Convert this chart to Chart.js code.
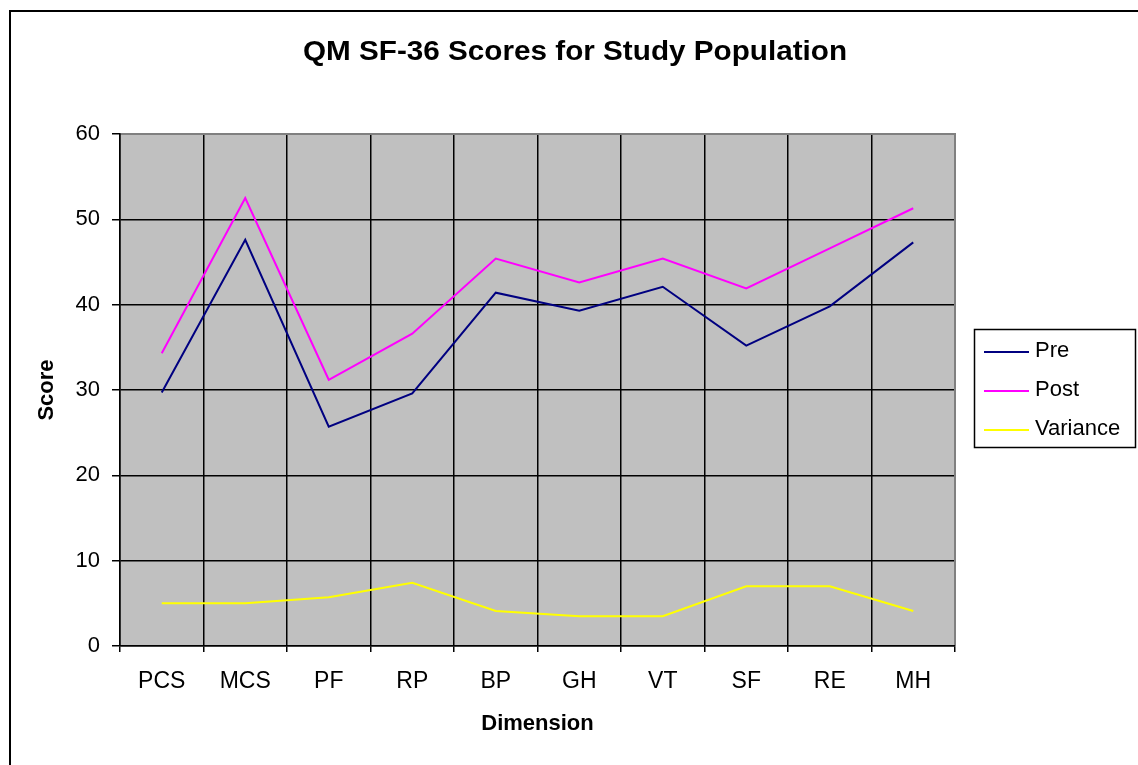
<!DOCTYPE html>
<html>
<head>
<meta charset="utf-8">
<script src="https://cdn.jsdelivr.net/npm/chart.js@4.4.1/dist/chart.umd.min.js"></script>
<style>
html, body { margin: 0; padding: 0; background: #fff; }
#wrap { position: relative; width: 1138px; height: 765px; }
</style>
</head>
<body>
<div id="wrap"><canvas id="chart" width="1138" height="765"></canvas></div>
<script>
// data
const categories = ['PCS', 'MCS', 'PF', 'RP', 'BP', 'GH', 'VT', 'SF', 'RE', 'MH'];
const preScores = [29.7, 47.6, 25.7, 29.6, 41.4, 39.3, 42.1, 35.2, 39.8, 47.3];
const postScores = [34.3, 52.5, 31.2, 36.6, 45.4, 42.6, 45.4, 41.9, 46.6, 51.3];
const varianceScores = [5.0, 5.0, 5.7, 7.4, 4.1, 3.5, 3.5, 7.0, 7.0, 4.1];
const yTicks = [0, 10, 20, 30, 40, 50, 60];

const chartTitle = 'QM SF-36 Scores for Study Population';
const fam = '"Liberation Sans", Arial, sans-serif';

// gray plot area + outer frame
const plotBg = {
    id: 'plotBg',
    beforeDraw(chart) {
        const ctx = chart.ctx;
        const a = chart.chartArea;
        ctx.save();
        ctx.fillStyle = '#fff';
        ctx.fillRect(0, 0, chart.width, chart.height);
        ctx.fillStyle = '#C0C0C0';
        ctx.fillRect(a.left, a.top, a.right - a.left, a.bottom - a.top);
        // outer chart frame (runs off the page right and bottom)
        ctx.strokeStyle = '#000';
        ctx.lineWidth = 2;
        ctx.beginPath();
        ctx.moveTo(10, chart.height + 5);
        ctx.lineTo(10, 11);
        ctx.lineTo(chart.width + 5, 11);
        ctx.stroke();
        ctx.restore();
    },
    beforeDatasetsDraw(chart) {
        const ctx = chart.ctx;
        const a = chart.chartArea;
        ctx.save();
        ctx.strokeStyle = '#808080';
        ctx.lineWidth = 2;
        ctx.beginPath();
        ctx.moveTo(a.left + 1, a.top);
        ctx.lineTo(a.right, a.top);
        ctx.lineTo(a.right, a.bottom - 1);
        ctx.stroke();
        ctx.restore();
    }
};

// title and boxed legend on the right
const titleLegend = {
    id: 'titleLegend',
    afterDraw(chart) {
        const ctx = chart.ctx;
        ctx.save();
        ctx.fillStyle = '#000';
        ctx.font = 'bold 28px ' + fam;
        ctx.textAlign = 'center';
        ctx.textBaseline = 'middle';
        ctx.translate(575, 52);
        ctx.scale(1.06, 1);
        ctx.fillText(chartTitle, 0, 0);
        ctx.restore();

        ctx.save();
        ctx.strokeStyle = '#000';
        ctx.lineWidth = 1.5;
        ctx.strokeRect(974.5, 329.5, 161, 118);
        ctx.font = '22px ' + fam;
        ctx.textAlign = 'left';
        ctx.textBaseline = 'middle';
        chart.data.datasets.forEach((ds, i) => {
            const y = 352 + i * 39;
            ctx.strokeStyle = ds.borderColor;
            ctx.lineWidth = 2;
            ctx.beginPath();
            ctx.moveTo(984, y);
            ctx.lineTo(1029, y);
            ctx.stroke();
            ctx.fillStyle = '#000';
            ctx.fillText(ds.label, 1035, y - 1);
        });
        ctx.restore();
    }
};

new Chart(document.getElementById('chart'), {
    type: 'line',
    data: {
        labels: categories,
        datasets: [
            { label: 'Pre', data: preScores, borderColor: '#000080' },
            { label: 'Post', data: postScores, borderColor: '#FF00FF' },
            { label: 'Variance', data: varianceScores, borderColor: '#FFFF00' }
        ]
    },
    options: {
        responsive: false,
        animation: false,
        layout: { padding: { left: 0, top: 134, right: 183, bottom: 0 } },
        plugins: {
            legend: { display: false },
            title: { display: false },
            tooltip: { enabled: false }
        },
        elements: {
            point: { radius: 0 },
            line: { tension: 0, borderWidth: 2, fill: false }
        },
        scales: {
            x: {
                type: 'category',
                offset: true,
                grid: { offset: true, color: '#000', lineWidth: 1.5, tickLength: 6 },
                border: { color: '#000', width: 1.5 },
                ticks: { color: '#000', font: { family: fam, size: 23 }, padding: 16, maxRotation: 0, autoSkip: false },
                title: {
                    display: true, text: 'Dimension', color: '#000',
                    font: { family: fam, size: 22, weight: 'bold' },
                    padding: { top: 0, bottom: 28 }
                },
                afterFit(s) { s.height = 119; }
            },
            y: {
                min: 0,
                max: 60,
                afterBuildTicks(s) { s.ticks = yTicks.map(v => ({ value: v })); },
                grid: { color: '#000', lineWidth: 1.5, tickLength: 8 },
                border: { color: '#000', width: 1.5 },
                ticks: { color: '#000', font: { family: fam, size: 22 }, padding: 12 },
                title: {
                    display: true, text: 'Score', color: '#000',
                    font: { family: fam, size: 22, weight: 'bold' },
                    padding: { top: 34, bottom: 0 }
                },
                afterFit(s) { s.width = 120; }
            }
        }
    },
    plugins: [plotBg, titleLegend]
});
</script>
</body>
</html>
